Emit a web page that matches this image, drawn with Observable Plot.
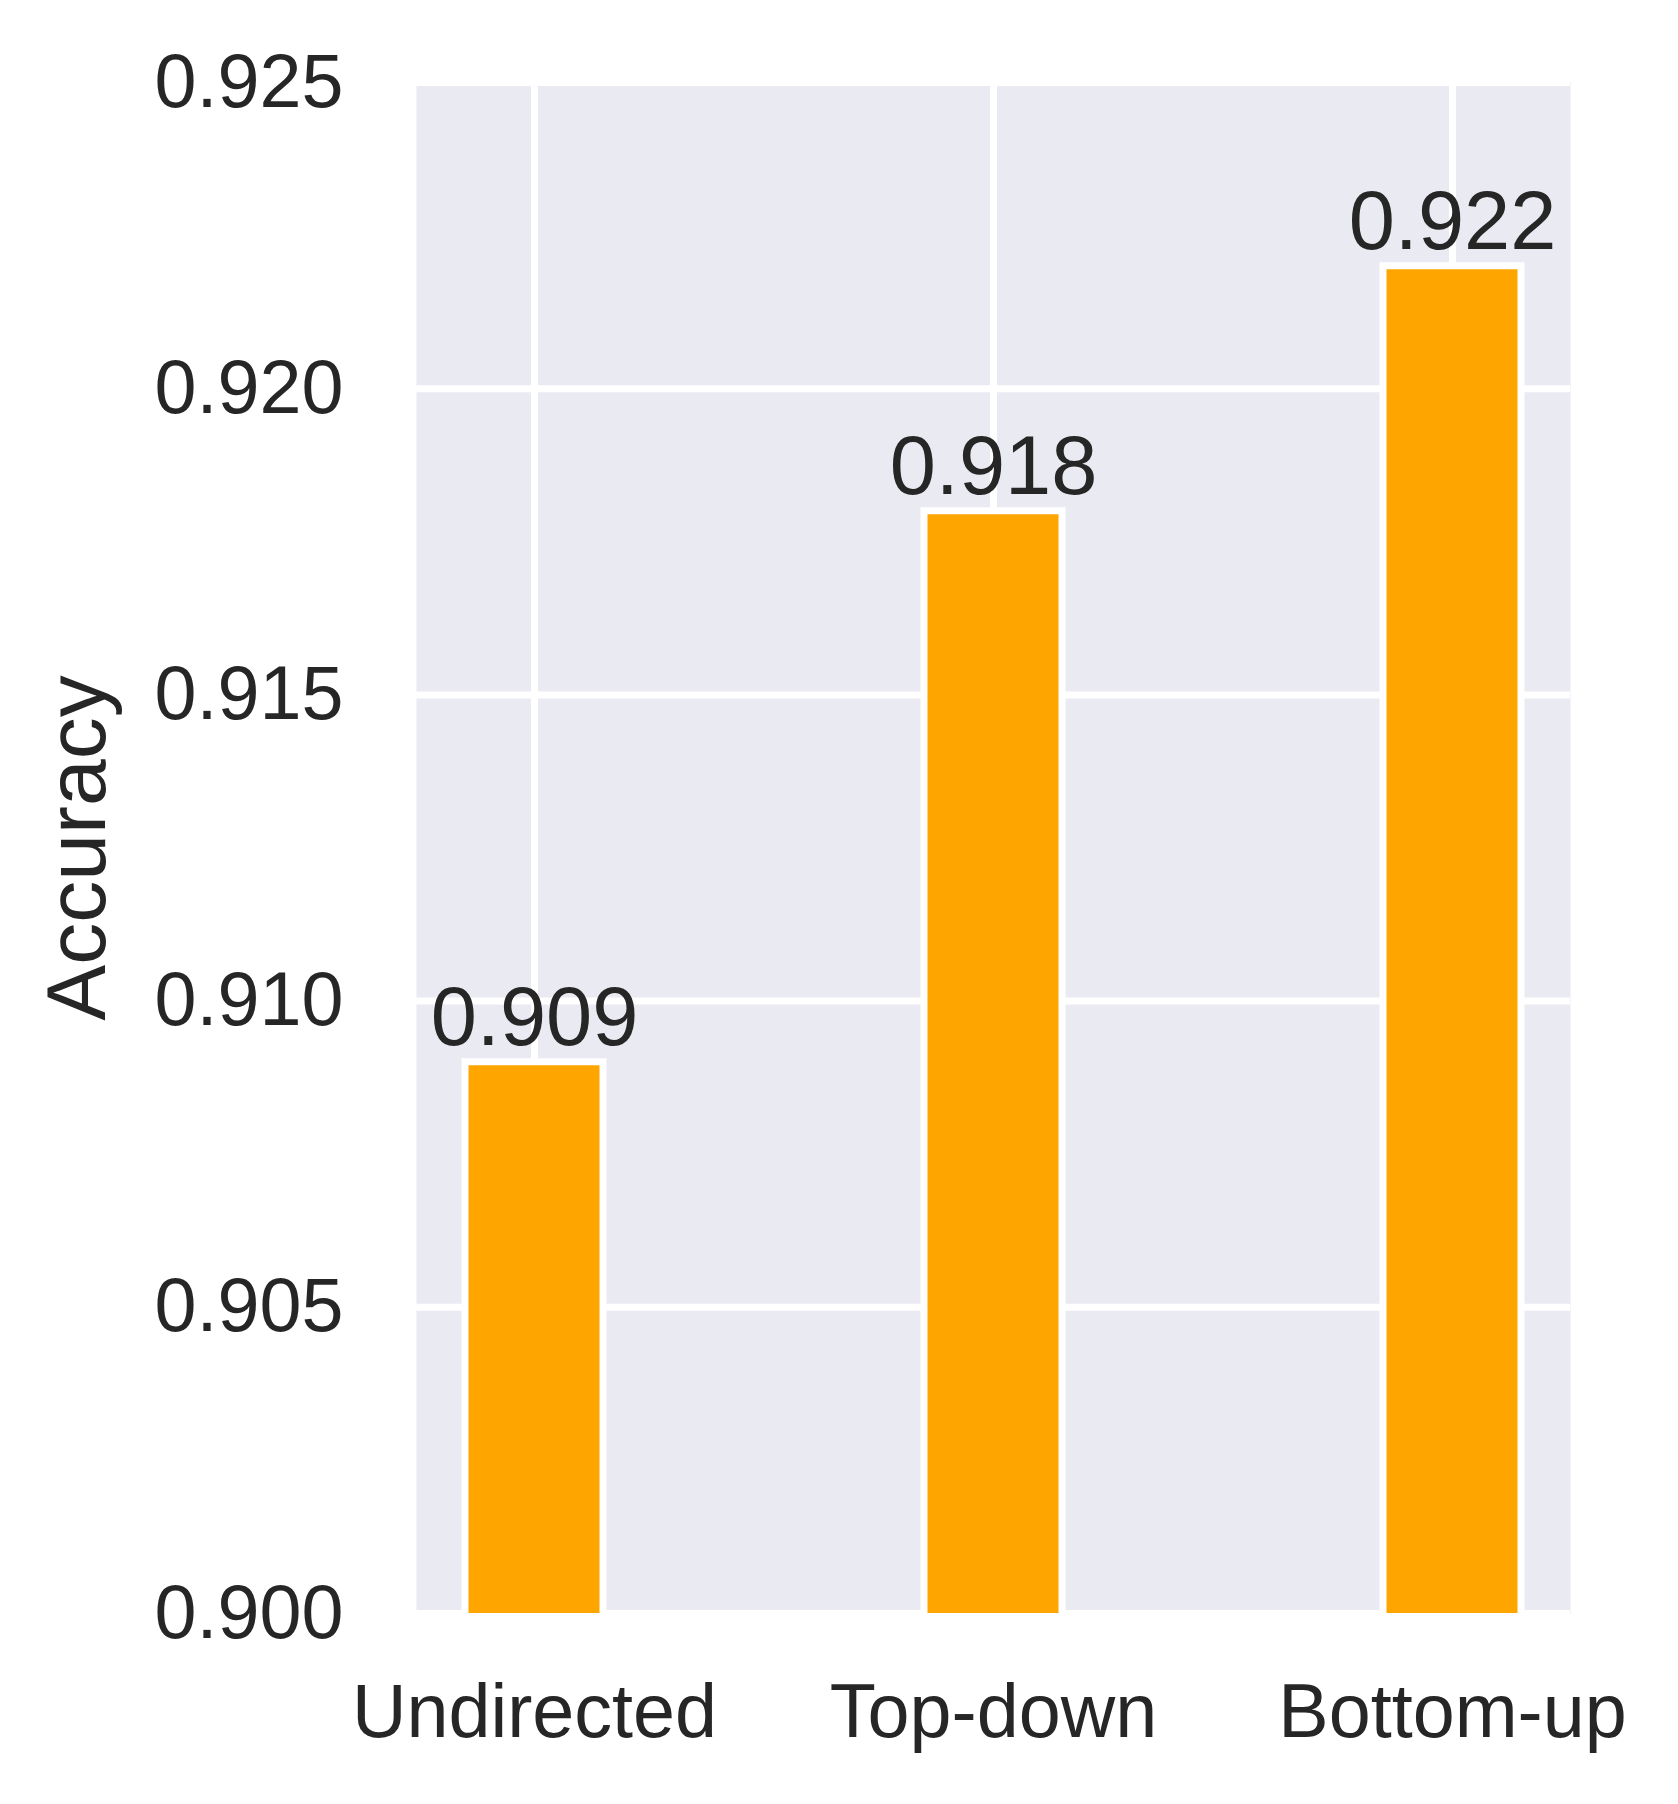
<!DOCTYPE html>
<html>
<head>
<meta charset="utf-8">
<script src="https://cdn.jsdelivr.net/npm/d3@7"></script>
<script src="https://cdn.jsdelivr.net/npm/@observablehq/plot@0.6"></script>
<style>
  html, body { margin: 0; padding: 0; background: #ffffff; }
</style>
</head>
<body>
<div id="chart"></div>
<script>
const categories = ["Undirected", "Top-down", "Bottom-up"];
const accuracy = [0.909, 0.918, 0.922];
const yTicks = [0.900, 0.905, 0.910, 0.915, 0.920, 0.925];
const yDomain = [0.900, 0.925];
const yLabel = "Accuracy";

const data = categories.map((c, i) => ({category: c, value: accuracy[i]}));

const textColor = "#262626";
const bg = "#EAEAF2";
const barColor = "#FFA500";

const chart = Plot.plot({
  width: 1678,
  height: 1804,
  marginLeft: 416,
  marginRight: 108,
  marginTop: 82,
  marginBottom: 191,
  style: {fontFamily: "Arial, 'Liberation Sans', sans-serif", color: textColor, background: "#ffffff"},
  x: {domain: categories, paddingInner: 0.7, paddingOuter: 0.105, label: null},
  y: {domain: yDomain, label: null},
  marks: [
    Plot.frame({fill: bg, stroke: null}),
    Plot.gridY(yTicks, {stroke: "#ffffff", strokeOpacity: 1, strokeWidth: 7}),
    Plot.gridX(categories, {stroke: "#ffffff", strokeOpacity: 1, strokeWidth: 7}),
    Plot.barY(data, {x: "category", y: "value", fill: barColor, stroke: "#ffffff", strokeWidth: 7, clip: true}),
    Plot.text(data, {x: "category", y: "value", text: d => d.value.toFixed(3), dy: -17, lineAnchor: "bottom", fontSize: 83, fill: textColor}),
    Plot.axisY(yTicks, {tickSize: 0, tickPadding: 73, fontSize: 75.5, tickFormat: d3.format(".3f"), label: null, fill: textColor}),
    Plot.axisX(categories, {tickSize: 0, tickPadding: 70, fontSize: 75.5, label: null, fill: textColor}),
    Plot.text([yLabel], {frameAnchor: "left", rotate: -90, dx: -338, textAnchor: "middle", lineAnchor: "middle", fontSize: 84, fill: textColor})
  ]
});
document.getElementById("chart").appendChild(chart);
</script>
</body>
</html>
